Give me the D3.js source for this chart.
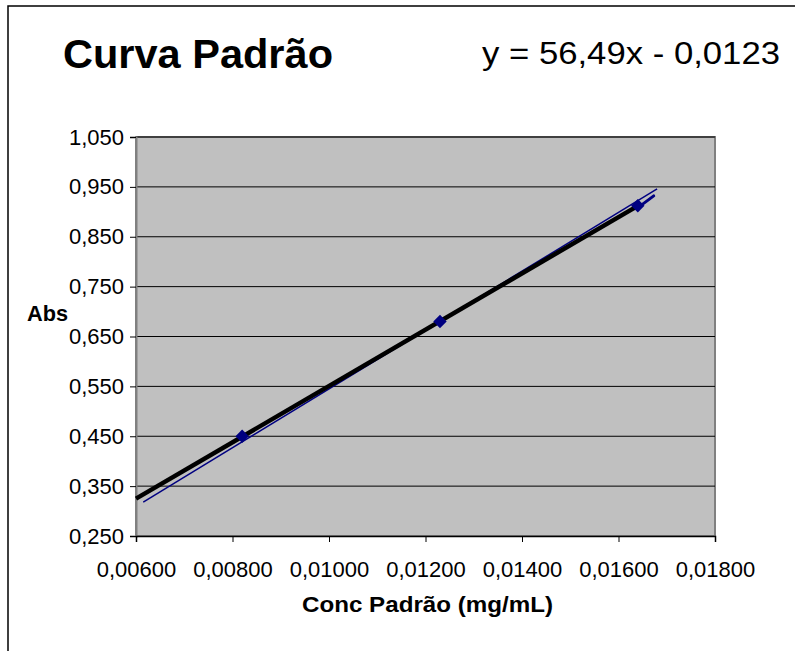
<!DOCTYPE html>
<html>
<head>
<meta charset="utf-8">
<script src="https://cdn.jsdelivr.net/npm/d3@7"></script>
<style>
  body { margin: 0; background: #FFFFFF; }
  text { font-family: "Liberation Sans", Arial, sans-serif; }
</style>
</head>
<body>
<svg></svg>
<script>
//--Data
const concValues = [0.0082, 0.0123, 0.0164];
const absValues = [0.450, 0.680, 0.912];
const trendPoints = [[0.0060, 0.325], [0.0164, 0.912]];
const bluePoints = [[0.00615, 0.318], [0.0168, 0.946]];
const blueHook = [[0.01648, 0.914], [0.01673, 0.932]];
const yTicks = [0.25, 0.35, 0.45, 0.55, 0.65, 0.75, 0.85, 0.95, 1.05];
const xTicks = [0.006, 0.008, 0.010, 0.012, 0.014, 0.016, 0.018];
const titleText = "Curva Padrão";
const equationText = "y = 56,49x - 0,0123";
const xLabel = "Conc Padrão (mg/mL)";
const yLabel = "Abs";

//--Canvas
const canvas = { width: 795, height: 651, left: 136, right: 715, top: 137, bottom: 536 };
const ptLocale = d3.formatLocale({ decimal: ",", thousands: ".", grouping: [3], currency: ["", ""] });

const root = d3.select("svg")
  .attr("width", canvas.width)
  .attr("height", canvas.height);

root.append("rect")
  .attr("x", 8).attr("y", 6)
  .attr("width", 820).attr("height", 700)
  .attr("fill", "#FFFFFF")
  .attr("stroke", "#000000")
  .attr("stroke-width", 1.5);

const x = d3.scaleLinear().domain([0.006, 0.018]).range([canvas.left, canvas.right]);
const y = d3.scaleLinear().domain([0.25, 1.05]).range([canvas.bottom, canvas.top]);

//--Plot area
root.append("rect")
  .attr("x", canvas.left).attr("y", canvas.top)
  .attr("width", canvas.right - canvas.left)
  .attr("height", canvas.bottom - canvas.top)
  .attr("fill", "#C0C0C0")
  .attr("stroke", "#808080")
  .attr("stroke-width", 2);

root.append("g")
  .selectAll("line")
  .data(yTicks.slice(1))
  .enter()
  .append("line")
  .attr("x1", canvas.left).attr("x2", canvas.right)
  .attr("y1", d => y(d)).attr("y2", d => y(d))
  .attr("stroke", "#000000")
  .attr("stroke-width", 1);

//--Axes
const yAxis = root.append("g")
  .attr("transform", "translate(" + canvas.left + ",0)")
  .call(d3.axisLeft(y).tickValues(yTicks).tickFormat(ptLocale.format(".3f")).tickSize(6).tickPadding(6));
const xAxis = root.append("g")
  .attr("transform", "translate(0," + canvas.bottom + ")")
  .call(d3.axisBottom(x).tickValues(xTicks).tickFormat(ptLocale.format(".5f")).tickSize(6).tickPadding(19));
yAxis.select(".domain").attr("stroke", "#808080").attr("stroke-width", 2);
xAxis.select(".domain").attr("stroke", "#000000").attr("stroke-width", 1.5);
[yAxis, xAxis].forEach(a => {
  a.selectAll("text")
    .style("font-family", "'Liberation Sans', Arial, sans-serif")
    .style("font-size", "22px")
    .attr("fill", "#000000");
  a.selectAll(".tick line").attr("stroke", "#000000");
});

//--Series
const line = d3.line().x(d => x(d[0])).y(d => y(d[1]));
root.append("path")
  .datum(bluePoints)
  .attr("d", line)
  .attr("fill", "none")
  .attr("stroke", "#000080")
  .attr("stroke-width", 1.5);
root.append("path")
  .datum(blueHook)
  .attr("d", line)
  .attr("fill", "none")
  .attr("stroke", "#000080")
  .attr("stroke-width", 3)
  .attr("stroke-linecap", "round");
root.append("path")
  .datum(trendPoints)
  .attr("d", line)
  .attr("fill", "none")
  .attr("stroke", "#000000")
  .attr("stroke-width", 4.5);

root.append("g")
  .selectAll("path")
  .data(concValues.map((c, i) => [c, absValues[i]]))
  .enter()
  .append("path")
  .attr("d", d3.symbol().type(d3.symbolSquare).size(90))
  .attr("transform", d => "translate(" + x(d[0]) + "," + y(d[1]) + ") rotate(45)")
  .attr("fill", "#000080");

//--Texts
root.append("text")
  .attr("x", 63).attr("y", 68)
  .attr("textLength", 270)
  .attr("lengthAdjust", "spacingAndGlyphs")
  .style("font-size", "40px")
  .style("font-weight", "bold")
  .text(titleText);
root.append("text")
  .attr("x", 482).attr("y", 64)
  .attr("textLength", 298)
  .attr("lengthAdjust", "spacingAndGlyphs")
  .style("font-size", "31px")
  .text(equationText);
root.append("text")
  .attr("x", 302).attr("y", 612)
  .attr("textLength", 251)
  .attr("lengthAdjust", "spacingAndGlyphs")
  .style("font-size", "22px")
  .style("font-weight", "bold")
  .text(xLabel);
root.append("text")
  .attr("x", 27).attr("y", 321)
  .attr("textLength", 41)
  .attr("lengthAdjust", "spacingAndGlyphs")
  .style("font-size", "22px")
  .style("font-weight", "bold")
  .text(yLabel);
</script>
</body>
</html>
